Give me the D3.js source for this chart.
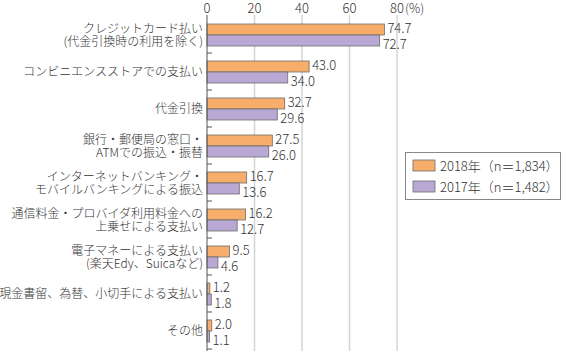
<!DOCTYPE html>
<html><head><meta charset="utf-8">
<script src="https://cdn.jsdelivr.net/npm/d3@7"></script>
<style>body{margin:0;background:#fff}svg{display:block}text{font-family:"Noto Sans CJK JP","Noto Sans",sans-serif;fill:#333;font-weight:300}</style>
</head><body><svg id="c" width="562" height="351"></svg>
<script>
const categories = [
  ["クレジットカード払い","(代金引換時の利用を除く)"],
  ["コンビニエンスストアでの支払い"],
  ["代金引換"],
  ["銀行・郵便局の窓口・","ATMでの振込・振替"],
  ["インターネットバンキング・","モバイルバンキングによる振込"],
  ["通信料金・プロバイダ利用料金への","上乗せによる支払い"],
  ["電子マネーによる支払い","(楽天Edy、Suicaなど)"],
  ["現金書留、為替、小切手による支払い"],
  ["その他"]
];
const values2018 = [74.7,43.0,32.7,27.5,16.7,16.2,9.5,1.2,2.0];
const values2017 = [72.7,34.0,29.6,26.0,13.6,12.7,4.6,1.8,1.1];
const seriesNames = ["2018年（n＝1,834）","2017年（n＝1,482）"];
const xTicks = [0,20,40,60,80];
const colors = ["#F7AE6B","#B9A8D3"];

const svg = d3.select("#c");
const x = d3.scaleLinear().domain([0,80]).range([207,397]);
const y = d3.scaleBand().domain(d3.range(categories.length)).range([16,349]);
const inner = d3.scaleBand().domain([0,1]).range([8,30]);

// gridlines
svg.append("g").selectAll("line").data(xTicks.filter(d=>d>0)).join("line")
  .attr("x1",d=>x(d)).attr("x2",d=>x(d)).attr("y1",15).attr("y2",351)
  .attr("stroke","#d4d4d4").attr("stroke-width",1.5);

// top tick labels
svg.append("g").selectAll("text").data(xTicks).join("text")
  .attr("x",d=>x(d)).attr("y",12.5).attr("text-anchor","middle")
  .attr("font-size",13).text(d=>d);
svg.append("text").attr("x",x(80)+8).attr("y",12.5).attr("font-size",12.5).text("(%)");

const series = [values2018, values2017];
series.forEach((vals,si)=>{
  svg.append("g").selectAll("rect").data(vals).join("rect")
    .attr("x",x(0)).attr("y",(d,i)=>y(i)+inner(si))
    .attr("width",d=>x(d)-x(0)).attr("height",inner.bandwidth())
    .attr("fill",colors[si]).attr("stroke","#6b6b6b").attr("stroke-width",0.8);
  svg.append("g").selectAll("text").data(vals).join("text")
    .attr("x",d=>x(d)+3).attr("y",(d,i)=>y(i)+inner(si)+inner.bandwidth()/2+(si?8:3.8))
    .attr("font-size",13).text(d=>d.toFixed(1));
});

// left axis
svg.append("line").attr("x1",x(0)).attr("x2",x(0)).attr("y1",15).attr("y2",351)
  .attr("stroke","#555").attr("stroke-width",1);
svg.append("g").selectAll("line").data(d3.range(1,categories.length+1)).join("line")
  .attr("x1",x(0)).attr("x2",x(0)+5).attr("y1",i=>y.range()[0]+i*y.step()).attr("y2",i=>y.range()[0]+i*y.step())
  .attr("stroke","#555");

// category labels
categories.forEach((lines,i)=>{
  const g = svg.append("text").attr("text-anchor","end").attr("font-size",12);
  if(lines.length===1){
    g.append("tspan").attr("x",203).attr("y",y(i)+y.bandwidth()/2+4.5).text(lines[0]);
  } else {
    lines.forEach((t,k)=>g.append("tspan").attr("x",203)
      .attr("y",y(i)+inner(k)+inner.bandwidth()/2+4.5+(k?1:-1.5)).text(t));
  }
});

// legend
const lg = svg.append("g");
lg.append("rect").attr("x",405.5).attr("y",152.5).attr("width",155).attr("height",47)
  .attr("fill","#fff").attr("stroke","#888");
seriesNames.forEach((n,i)=>{
  lg.append("rect").attr("x",413).attr("y",160+i*21).attr("width",22).attr("height",11)
    .attr("fill",colors[i]).attr("stroke","#6b6b6b").attr("stroke-width",0.8);
  lg.append("text").attr("x",440).attr("y",170.5+i*21).attr("font-size",13).text(n);
});
</script></body></html>
